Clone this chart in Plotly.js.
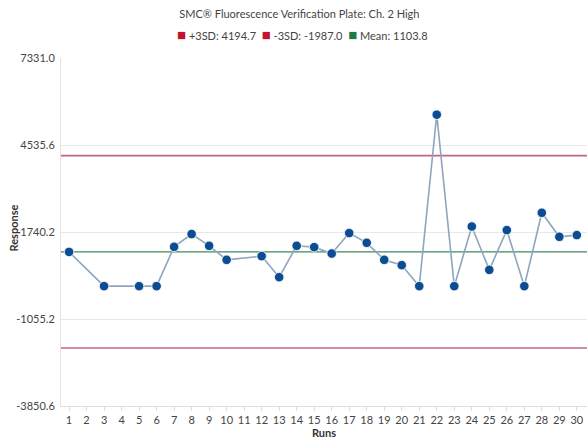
<!DOCTYPE html>
<html>
<head>
<meta charset="utf-8">
<script src="https://cdn.plot.ly/plotly-3.0.1.min.js"></script>
<style>html,body{margin:0;padding:0;background:#fff;}#chart{width:587px;height:439px;}</style>
</head>
<body>
<div id="chart"></div>
<script>
// Runs (runs 2, 4 and 11 have no result)
var runs = [1,2,3,4,5,6,7,8,9,10,11,12,13,14,15,16,17,18,19,20,21,22,23,24,25,26,27,28,29,30];
var responses = [1100,null,0,null,0,0,1264,1673,1296,846,null,965,289,1296,1254,1048,1705,1393,846,675,0,5510,0,1917,524,1801,0,2358,1586,1640];

var plusLimit = 4194.7;
var minusLimit = -1987.0;
var meanValue = 1103.8;

var yTickVals = [-3850.6, -1055.2, 1740.2, 4535.6, 7331.0];
var yTickText = ["-3850.6", "-1055.2", "1740.2", "4535.6", "7331.0"];

var limitColor = '#c4657e';
var meanColor = '#3f8a5e';
var squareRed = '#c41230';
var squareGreen = '#1f7a45';

var trace = {
  x: runs,
  y: responses,
  type: 'scatter',
  mode: 'lines+markers',
  connectgaps: true,
  line: {color: '#8ea6bd', width: 1.6},
  marker: {color: '#0b4c93', size: 9.5, line: {color: '#ffffff', width: 0.8}},
  showlegend: false,
  hoverinfo: 'x+y'
};

function hline(v, c, w) {
  return {type: 'line', xref: 'paper', x0: 0, x1: 1, yref: 'y', y0: v, y1: v,
          line: {color: c, width: w}, layer: 'below'};
}

function sq(c) { return '<span style="color:' + c + ';font-size:15px">■</span>'; }
var legendText = sq(squareRed) + ' +3SD: ' + plusLimit.toFixed(1) + '  ' +
                 sq(squareRed) + ' -3SD: ' + minusLimit.toFixed(1) + '  ' +
                 sq(squareGreen) + ' Mean: ' + meanValue.toFixed(1);

var layout = {
  width: 587,
  height: 439,
  margin: {l: 61, r: 0, t: 58, b: 33},
  paper_bgcolor: '#ffffff',
  plot_bgcolor: '#ffffff',
  font: {family: 'Lato, "Open Sans", sans-serif', color: '#444', size: 11},
  title: {text: 'SMC® Fluorescence Verification Plate: Ch. 2 High', x: 0.51, xanchor: 'center', y: 0.968, yanchor: 'middle',
          font: {family: 'Lato, sans-serif', size: 11, color: '#444'}},
  showlegend: false,
  annotations: [{
    text: legendText, xref: 'paper', yref: 'paper', x: 0.46, y: 1.07, xanchor: 'center', yanchor: 'middle',
    showarrow: false, font: {family: 'Lato, sans-serif', size: 11, color: '#444'}
  }, {
    text: '<b>Response</b>', xref: 'paper', yref: 'paper', x: 0, xshift: -47, y: 0.51, xanchor: 'center', yanchor: 'middle',
    textangle: -90, showarrow: false, font: {family: 'Lato, sans-serif', size: 11, color: '#333'}
  }],
  xaxis: {
    range: [0.54, 30.58],
    tickmode: 'array',
    tickvals: runs,
    ticktext: runs.map(String),
    ticks: 'outside', ticklen: 4, tickcolor: '#dddddd',
    showgrid: false, zeroline: false,
    showline: true, linecolor: '#dddddd', linewidth: 1,
    tickfont: {family: 'Lato, sans-serif', size: 11, color: '#444'},
    title: {text: '<b>Runs</b>', font: {family: 'Lato, sans-serif', size: 11, color: '#333'}, standoff: 3}
  },
  yaxis: {
    range: [-3850.6, 7331.0],
    tickmode: 'array',
    tickvals: yTickVals,
    ticktext: yTickText,
    showgrid: true, gridcolor: '#e8e8e8', gridwidth: 1,
    zeroline: false,
    showline: true, linecolor: '#e2e2e2', linewidth: 1,
    ticks: '', ticklabelstandoff: 3,
    tickfont: {family: 'Lato, sans-serif', size: 11, color: '#444'}
  },
  shapes: [hline(plusLimit, limitColor, 1.6), hline(minusLimit, limitColor, 1.6), hline(meanValue, meanColor, 1.3)]
};

Plotly.newPlot('chart', [trace], layout, {displayModeBar: false, staticPlot: true});
</script>
</body>
</html>
